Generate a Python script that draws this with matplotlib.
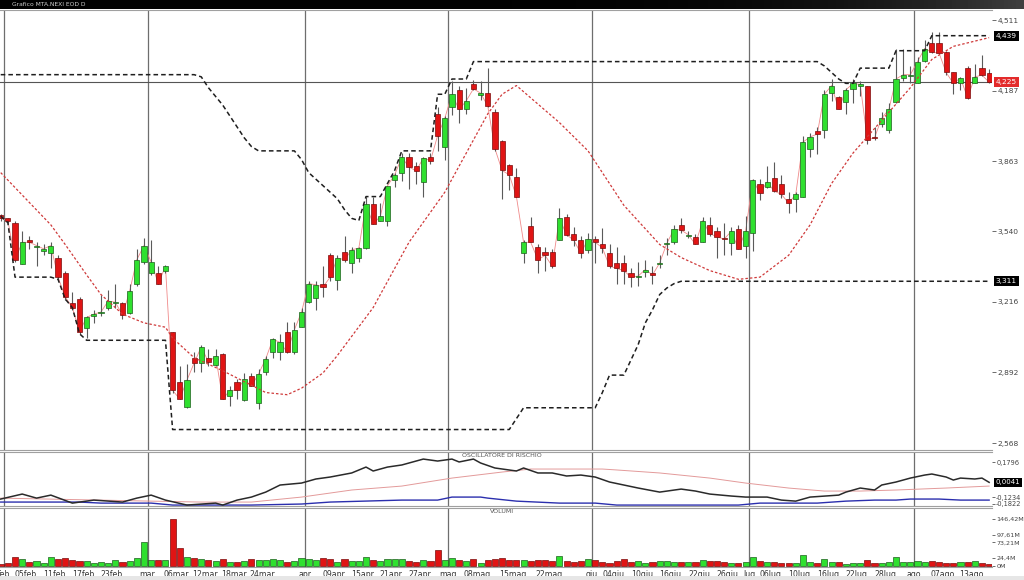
import numpy as np
import pandas as pd
import matplotlib
matplotlib.use("Agg")
import matplotlib.pyplot as plt
from matplotlib.transforms import blended_transform_factory

# trading days (Borsa Italiana, 2026)
holidays = ["2026-04-03", "2026-04-06", "2026-05-01"]
days = pd.bdate_range("2026-02-02", "2026-08-18")
days = days[~days.isin(pd.to_datetime(holidays))]

# daily candles: open, high, low, close
opens = [3.615, 3.60, 3.58, 3.39, 3.50, 3.47, 3.45, 3.44, 3.42, 3.35,
         3.21, 3.23, 3.095, 3.15, 3.165, 3.19, 3.21, 3.21, 3.165, 3.30,
         3.40, 3.35, 3.35, 3.36, 3.08, 2.85, 2.735, 2.96, 2.935, 2.96,
         2.925, 2.977, 2.784, 2.85, 2.765, 2.875, 2.75, 2.895, 2.985, 2.985,
         3.078, 2.985, 3.10, 3.216, 3.235, 3.30, 3.43, 3.317, 3.445, 3.395,
         3.418, 3.464, 3.665, 3.59, 3.59, 3.776, 3.81, 3.88, 3.84, 3.767,
         3.88, 4.08, 3.928, 4.11, 4.19, 4.10, 4.215, 4.165, 4.175, 4.09,
         3.955, 3.845, 3.79, 3.44, 3.565, 3.47, 3.445, 3.445, 3.50, 3.607,
         3.528, 3.50, 3.455, 3.505, 3.484, 3.44, 3.395, 3.395, 3.35, 3.33,
         3.352, 3.35, 3.39, 3.48, 3.49, 3.57, 3.52, 3.515, 3.49, 3.57,
         3.54, 3.51, 3.485, 3.55, 3.475, 3.535, 3.76, 3.744, 3.785, 3.76,
         3.69, 3.69, 3.70, 3.92, 4.00, 4.006, 4.176, 4.157, 4.135, 4.195,
         4.21, 4.21, 3.975, 4.035, 4.006, 4.135, 4.245, 4.255, 4.222, 4.323,
         4.406, 4.406, 4.364, 4.27, 4.22, 4.29, 4.22, 4.29, 4.268]
highs = [3.62, 3.60, 3.59, 3.54, 3.52, 3.49, 3.48, 3.49, 3.43, 3.36,
         3.26, 3.24, 3.15, 3.18, 3.25, 3.27, 3.30, 3.215, 3.30, 3.46,
         3.51, 3.50, 3.38, 3.385, 3.08, 2.92, 2.93, 2.985, 3.02, 3.00,
         3.00, 2.98, 2.83, 2.86, 2.89, 2.89, 2.91, 2.97, 3.05, 3.07,
         3.124, 3.124, 3.19, 3.31, 3.31, 3.38, 3.44, 3.43, 3.52, 3.47,
         3.47, 3.70, 3.70, 3.67, 3.75, 3.81, 3.90, 3.90, 3.86, 3.88,
         3.90, 4.11, 4.07, 4.23, 4.21, 4.20, 4.235, 4.23, 4.29, 4.10,
         3.96, 3.85, 3.83, 3.50, 3.605, 3.48, 3.47, 3.46, 3.647, 3.62,
         3.56, 3.52, 3.535, 3.52, 3.556, 3.48, 3.47, 3.43, 3.37, 3.40,
         3.41, 3.38, 3.43, 3.51, 3.57, 3.60, 3.54, 3.53, 3.606, 3.606,
         3.56, 3.58, 3.56, 3.57, 3.61, 3.78, 3.78, 3.84, 3.86, 3.80,
         3.72, 3.72, 3.98, 3.99, 4.02, 4.19, 4.24, 4.16, 4.20, 4.24,
         4.23, 4.21, 4.02, 4.09, 4.13, 4.38, 4.38, 4.30, 4.34, 4.42,
         4.456, 4.456, 4.37, 4.27, 4.25, 4.30, 4.31, 4.35, 4.285]
lows = [3.59, 3.58, 3.40, 3.39, 3.46, 3.38, 3.43, 3.37, 3.32, 3.225,
        3.18, 3.07, 3.05, 3.12, 3.15, 3.18, 3.19, 3.14, 3.16, 3.29,
        3.39, 3.34, 3.30, 3.35, 2.80, 2.77, 2.73, 2.895, 2.895, 2.92,
        2.92, 2.77, 2.74, 2.77, 2.76, 2.83, 2.725, 2.88, 2.96, 2.95,
        2.98, 2.975, 3.10, 3.21, 3.18, 3.24, 3.31, 3.27, 3.40, 3.35,
        3.40, 3.46, 3.573, 3.59, 3.565, 3.744, 3.77, 3.735, 3.76, 3.70,
        3.85, 3.91, 3.87, 4.075, 4.04, 4.08, 4.19, 4.145, 4.11, 3.91,
        3.69, 3.73, 3.70, 3.395, 3.49, 3.35, 3.36, 3.37, 3.50, 3.52,
        3.475, 3.42, 3.44, 3.395, 3.44, 3.37, 3.30, 3.30, 3.285, 3.29,
        3.33, 3.30, 3.37, 3.43, 3.48, 3.535, 3.51, 3.48, 3.49, 3.52,
        3.42, 3.43, 3.43, 3.46, 3.42, 3.45, 3.685, 3.74, 3.72, 3.695,
        3.625, 3.63, 3.70, 3.88, 3.896, 3.97, 4.14, 4.10, 4.08, 4.13,
        4.16, 3.94, 3.96, 4.02, 3.99, 4.13, 4.23, 4.22, 4.22, 4.32,
        4.36, 4.36, 4.26, 4.17, 4.19, 4.15, 4.22, 4.255, 4.22]
closes = [3.60, 3.59, 3.41, 3.49, 3.49, 3.475, 3.46, 3.475, 3.33, 3.24,
          3.19, 3.08, 3.145, 3.16, 3.17, 3.22, 3.215, 3.155, 3.265, 3.41,
          3.475, 3.40, 3.30, 3.38, 2.81, 2.77, 2.857, 2.935, 3.01, 2.94,
          2.966, 2.77, 2.81, 2.81, 2.86, 2.83, 2.885, 2.955, 3.045, 3.03,
          2.985, 3.088, 3.17, 3.30, 3.295, 3.285, 3.33, 3.418, 3.41, 3.455,
          3.464, 3.665, 3.573, 3.61, 3.749, 3.80, 3.88, 3.836, 3.818, 3.877,
          3.865, 3.98, 4.06, 4.17, 4.10, 4.14, 4.195, 4.175, 4.116, 3.92,
          3.82, 3.80, 3.70, 3.49, 3.49, 3.41, 3.43, 3.38, 3.60, 3.525,
          3.50, 3.44, 3.505, 3.49, 3.465, 3.38, 3.37, 3.36, 3.33, 3.335,
          3.365, 3.34, 3.395, 3.485, 3.55, 3.546, 3.525, 3.48, 3.59, 3.53,
          3.515, 3.505, 3.54, 3.46, 3.54, 3.776, 3.716, 3.767, 3.725, 3.71,
          3.67, 3.71, 3.95, 3.974, 3.987, 4.17, 4.21, 4.10, 4.19, 4.22,
          4.215, 3.96, 3.97, 4.06, 4.10, 4.24, 4.26, 4.26, 4.32, 4.38,
          4.364, 4.36, 4.27, 4.22, 4.245, 4.153, 4.25, 4.258, 4.225]

# volume in millions
volumes = [6, 10, 29, 21, 11, 17, 10, 27, 21, 24,
           19, 16, 16, 10, 11, 10, 19, 14, 17, 24,
           76, 19, 19, 19, 146.42, 55, 29, 24, 22, 19,
           16, 22, 14, 14, 16, 22, 19, 19, 22, 19,
           14, 16, 26, 22, 19, 24, 21, 14, 22, 16,
           16, 27, 19, 17, 22, 22, 21, 16, 14, 19,
           16, 50, 19, 24, 19, 16, 22, 10, 19, 22,
           24, 19, 19, 19, 16, 19, 19, 16, 31, 16,
           14, 16, 21, 19, 11, 10, 17, 21, 14, 16,
           10, 11, 16, 17, 11, 11, 14, 14, 19, 16,
           16, 11, 10, 8, 14, 27, 17, 11, 14, 8,
           10, 8, 34, 14, 10, 22, 14, 11, 6, 8,
           10, 19, 8, 10, 14, 29, 14, 14, 16, 14,
           16, 11, 8, 10, 11, 14, 16, 8, 5]

# stepped channel (black dashed)
upper_band = ([4.26] * 28 + [4.25, 4.20, 4.16, 4.12, 4.07, 4.02, 3.97, 3.93]
              + [3.91] * 6 + [3.87, 3.81, 3.78, 3.75, 3.72, 3.69, 3.64, 3.60, 3.59]
              + [3.70] * 3 + [3.76, 3.82] + [3.91] * 5 + [4.17] * 2 + [4.24] * 3
              + [4.32] * 49 + [4.30, 4.27, 4.24, 4.22, 4.22]
              + [4.29] * 5 + [4.37] * 5 + [4.439] * 9)
lower_band = ([3.61, 3.58] + [3.33] * 6 + [3.32, 3.23, 3.19, 3.07] + [3.04] * 12
              + [2.63] * 48 + [2.68] + [2.73] * 11 + [2.80] + [2.88] * 3
              + [2.95, 3.02, 3.12, 3.18, 3.25, 3.28, 3.30] + [3.311] * 44)

# red dotted average, read at selected trading days
ma_day = [0, 7, 9, 12, 14, 17, 20, 23, 24, 27, 31, 34, 37, 40, 42, 45, 47, 52,
          57, 62, 68, 70, 72, 78, 82, 87, 92, 95, 99, 103, 106, 110, 113, 116,
          119, 123, 127, 130, 133, 138]
ma_val = [3.81, 3.57, 3.48, 3.34, 3.25, 3.16, 3.12, 3.10, 3.05, 2.96, 2.90,
          2.85, 2.80, 2.79, 2.82, 2.89, 2.97, 3.19, 3.49, 3.72, 4.08, 4.17,
          4.21, 4.04, 3.91, 3.66, 3.48, 3.42, 3.36, 3.32, 3.33, 3.43, 3.57,
          3.76, 3.90, 4.05, 4.20, 4.33, 4.39, 4.43]

# risk oscillator
osc_k_day = [0, 3, 5, 7, 10, 13, 17, 19, 21, 23, 26, 30, 31, 33, 35, 37, 39,
             42, 44, 46, 49, 51, 52, 54, 56, 59, 61, 63, 64, 66, 67, 69, 72,
             73, 75, 77, 79, 81, 83, 85, 87, 89, 92, 95, 97, 99, 102, 104,
             107, 109, 111, 113, 117, 118, 120, 122, 123, 125, 127, 129, 130,
             132, 133, 134, 136, 137, 138]
osc_k_val = [-0.140, -0.097, -0.132, -0.106, -0.175, -0.149, -0.166, -0.132,
             -0.106, -0.149, -0.192, -0.175, -0.192, -0.149, -0.123, -0.080,
             -0.019, -0.002, 0.033, 0.050, 0.085, 0.136, 0.102, 0.136, 0.154,
             0.205, 0.188, 0.205, 0.180, 0.205, 0.171, 0.128, 0.102, 0.128,
             0.085, 0.085, 0.059, 0.067, 0.050, 0.007, -0.019, -0.045, -0.080,
             -0.054, -0.071, -0.097, -0.114, -0.123, -0.123, -0.149, -0.158,
             -0.123, -0.106, -0.080, -0.045, -0.062, -0.019, 0.007, 0.041,
             0.067, 0.076, 0.050, 0.024, 0.041, 0.033, 0.041, 0.0041]
osc_r_day = [0, 21, 28, 35, 42, 49, 56, 63, 70, 74, 84, 86, 92, 99, 104, 110,
             115, 120, 125, 132, 138]
osc_r_val = [-0.132, -0.158, -0.166, -0.166, -0.123, -0.062, -0.028, 0.041,
             0.093, 0.119, 0.119, 0.111, 0.085, 0.041, -0.002, -0.045, -0.071,
             -0.071, -0.062, -0.045, -0.028]
osc_b_day = [0, 11, 14, 21, 24, 35, 42, 46, 56, 61, 63, 67, 68, 72, 78, 83, 86,
             103, 106, 114, 118, 122, 125, 127, 131, 134, 138]
osc_b_val = [-0.166, -0.166, -0.175, -0.175, -0.192, -0.192, -0.183, -0.166,
             -0.149, -0.149, -0.123, -0.123, -0.132, -0.158, -0.175, -0.175,
             -0.192, -0.192, -0.175, -0.175, -0.158, -0.149, -0.149, -0.140,
             -0.140, -0.149, -0.149]

# x axis labels
tick_dates = ["2026-02-02", "2026-02-05", "2026-02-11", "2026-02-17", "2026-02-23",
              "2026-03-02", "2026-03-06", "2026-03-12", "2026-03-18", "2026-03-24",
              "2026-04-01", "2026-04-09", "2026-04-15", "2026-04-21", "2026-04-27",
              "2026-05-04", "2026-05-08", "2026-05-15", "2026-05-22",
              "2026-06-01", "2026-06-04", "2026-06-10", "2026-06-16", "2026-06-22",
              "2026-06-26", "2026-07-01", "2026-07-06", "2026-07-10", "2026-07-16",
              "2026-07-22", "2026-07-28", "2026-08-03", "2026-08-07", "2026-08-13"]
tick_text = ["feb", "05feb", "11feb", "17feb", "23feb", "mar", "06mar", "12mar",
             "18mar", "24mar", "apr", "09apr", "15apr", "21apr", "27apr", "mag",
             "08mag", "15mag", "22mag", "giu", "04giu", "10giu", "16giu", "22giu",
             "26giu", "lug", "06lug", "10lug", "16lug", "22lug", "28lug", "ago",
             "07ago", "13ago"]
month_starts = ["2026-02-02", "2026-03-02", "2026-04-01", "2026-05-04",
                "2026-06-01", "2026-07-01", "2026-08-03"]

price_ticks = [4.511, 4.187, 3.863, 3.540, 3.216, 2.892, 2.568]
osc_ticks = [0.1796, -0.1234, -0.1822]
vol_ticks = [146.42, 97.61, 73.21, 24.4, 0]
vol_tick_text = ["146,42M", "97,61M", "73,21M", "24,4M", "0M"]

GREEN = "#2fe02f"
RED = "#e01414"

x = np.arange(len(days))
o = np.array(opens)
c = np.array(closes)
up = c >= o
col = np.where(up, GREEN, RED)
edge = np.where(up, "#1c5e1c", "#7a0b0b")

def pos(d):
    return days.get_loc(pd.Timestamp(d))

def comma(v, fmt):
    return (fmt % v).replace(".", ",")

W, H = 1024, 580
fig = plt.figure(figsize=(W / 100, H / 100), dpi=100)
fig.patch.set_facecolor("white")

def fy(px):
    return 1 - px / H

xr = 992 / W
ax = fig.add_axes([0, fy(450), xr, fy(10) - fy(450)])
ax_o = fig.add_axes([0, fy(506), xr, fy(452) - fy(506)], sharex=ax)
ax_v = fig.add_axes([0, fy(567), xr, fy(508) - fy(567)], sharex=ax)

# title bar
bar = fig.add_axes([0, fy(9), 1, 9 / H])
bar.imshow(np.linspace(0, 1, 256).reshape(1, -1) ** 6, cmap="gray", vmin=0, vmax=4,
           aspect="auto", extent=[0, 1, 0, 1])
bar.set_axis_off()
bar.text(0.012, 0.5, "Grafico MTA.NEXI EOD D", color="#cfcfcf", fontsize=4.3,
         va="center", ha="left", transform=bar.transAxes)
fig.patches.append(plt.Rectangle((0, 0), 1, 4 / H, transform=fig.transFigure,
                                 facecolor="#e6e6e6", edgecolor="none"))

month_x = [pos(d) + 0.5 for d in month_starts]
for a in (ax, ax_o, ax_v):
    for mx in month_x:
        a.axvline(mx, color="#6e6e6e", lw=0.9, zorder=1)
    for s in ("left", "right"):
        a.spines[s].set_visible(False)
    for s in ("top", "bottom"):
        a.spines[s].set_color("#a0a0a0")
        a.spines[s].set_linewidth(0.8)
    a.yaxis.tick_right()
    a.tick_params(axis="y", direction="out", length=3, width=0.6, labelsize=5.4,
                  colors="#555555", labelcolor="#444444", pad=1)
    a.tick_params(axis="x", length=0)

# price panel
ax.vlines(x, lows, highs, color="#5a5a5a", lw=0.8, zorder=3)
body = np.maximum(np.abs(c - o), 0.005)
ax.bar(x, body, bottom=np.minimum(o, c), width=0.72, color=col, edgecolor=edge,
       linewidth=0.5, zorder=4)
ax.plot(x, closes, color="#f08a8a", lw=0.6, zorder=2)
ax.plot(x, upper_band, color="#1e1e1e", lw=1.1, ls=(0, (3, 2)), zorder=5)
ax.plot(x, lower_band, color="#1e1e1e", lw=1.1, ls=(0, (3, 2)), zorder=5)
ax.plot(ma_day, ma_val, color="#cf3a3a", lw=0.9, ls=(0, (2, 1.6)), zorder=5)
ax.axhline(closes[-1], color="#555555", lw=0.8, zorder=2)
ax.set_xlim(-0.1, 138.4)
ax.set_ylim(2.536, 4.557)
ax.set_yticks(price_ticks)
ax.set_yticklabels([comma(v, "%.3f") for v in price_ticks])
ax.tick_params(axis="x", labelbottom=False)

tr = blended_transform_factory(ax.transAxes, ax.transData)
for val, fc in [(upper_band[-1], "black"), (closes[-1], "#e32b2b"),
                (lower_band[-1], "black")]:
    ax.text(1.004, val, comma(val, "%.3f"), transform=tr, fontsize=5.4, color="white",
            va="center", ha="left", clip_on=False,
            bbox=dict(boxstyle="square,pad=0.25", fc=fc, ec="none"))

# oscillator panel
ax_o.plot(osc_r_day, osc_r_val, color="#e39a9a", lw=0.7)
ax_o.plot(osc_b_day, osc_b_val, color="#2b2fae", lw=1.0)
ax_o.plot(osc_k_day, osc_k_val, color="#2a2a2a", lw=1.1)
ax_o.set_ylim(-0.200, 0.266)
ax_o.set_yticks(osc_ticks)
ax_o.set_yticklabels([comma(v, "%.4f") for v in osc_ticks])
ax_o.tick_params(axis="y", labelsize=4.8, length=2)
ax_o.tick_params(axis="x", labelbottom=False)
ax_o.text(70, 0.255, "OSCILLATORE DI RISCHIO", fontsize=4.5, color="#555555",
          ha="center", va="top")
tro = blended_transform_factory(ax_o.transAxes, ax_o.transData)
ax_o.text(1.004, osc_k_val[-1], comma(osc_k_val[-1], "%.4f"), transform=tro,
          fontsize=5.0, color="white", va="center", ha="left", clip_on=False,
          bbox=dict(boxstyle="square,pad=0.25", fc="black", ec="none"))

# volume panel
ax_v.bar(x, volumes, width=0.85, color=col, edgecolor=edge, linewidth=0.5, zorder=3)
ax_v.set_ylim(-3, 180)
ax_v.set_yticks(vol_ticks)
ax_v.set_yticklabels(vol_tick_text)
ax_v.tick_params(axis="y", labelsize=4.6, length=2)
ax_v.text(70, 176, "VOLUMI", fontsize=4.5, color="#555555", ha="center", va="top")
ax_v.set_xticks([pos(d) + 0.5 for d in tick_dates])
ax_v.set_xticklabels(tick_text)
ax_v.tick_params(axis="x", labelsize=5.6, labelcolor="#333333", pad=2)

fig.savefig("out.png", dpi=100)
